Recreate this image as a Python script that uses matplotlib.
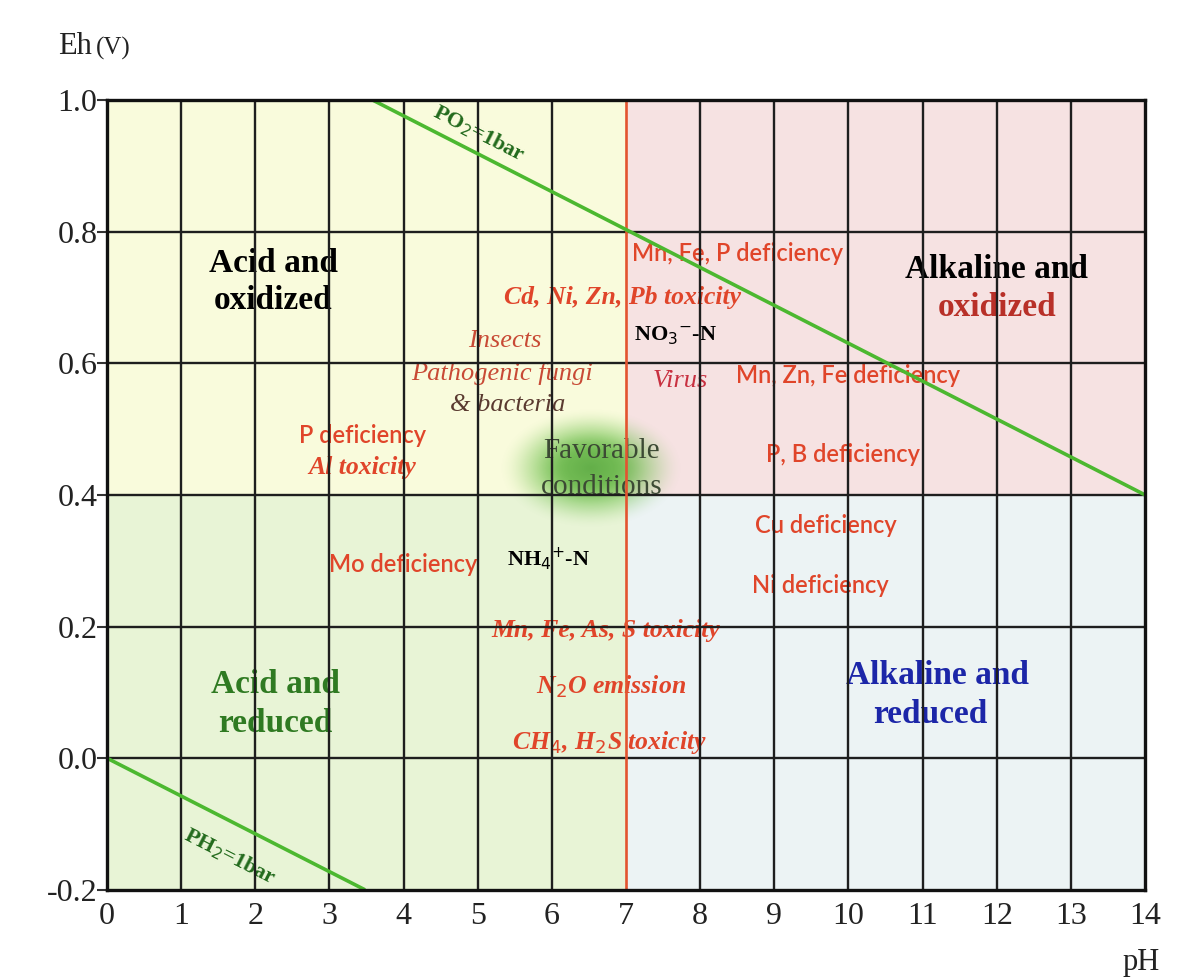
import numpy as np
import matplotlib
matplotlib.use("Agg")
import matplotlib.pyplot as plt

# Limites del diagrama Eh-pH
ph_min, ph_max = 0, 14
eh_min, eh_max = -0.2, 1.0
ph_neutral = 7
eh_split = 0.4

ph_ticks = list(range(0, 15))
eh_ticks = [-0.2, 0.0, 0.2, 0.4, 0.6, 0.8, 1.0]

# Linies d'estabilitat de l'aigua (extrems llegits del grafic)
po2_ph = [3.58, 14.0]
po2_eh = [1.0, 0.4]
ph2_ph = [0.0, 3.48]
ph2_eh = [0.0, -0.2]

# Zones (pH0, pH1, Eh0, Eh1, color)
zones = [
    (0, 7, 0.4, 1.0, "#f9fbdc"),
    (7, 14, 0.4, 1.0, "#f6e2e2"),
    (0, 7, -0.2, 0.4, "#e8f4d6"),
    (7, 14, -0.2, 0.4, "#ecf3f4"),
]

# Zona de condicions favorables
fav_ph, fav_eh = 6.52, 0.440
fav_wph, fav_weh = 1.25, 0.092

# Etiquetes: (text, pH, Eh, color, estil)
labels = [
    ("Mn, Fe, P deficiency", 8.5, 0.766, "#e0452a", "sans"),
    ("Cd, Ni, Zn, Pb toxicity", 6.95, 0.700, "#e0452a", "ital"),
    ("NO$_3$$^{-}$-N", 7.67, 0.642, "black", "bold"),
    ("Insects", 5.37, 0.634, "#c84a35", "ital_n"),
    ("Pathogenic fungi", 5.33, 0.584, "#c84a35", "ital_n"),
    ("& bacteria", 5.40, 0.537, "#5a3a30", "ital_n"),
    ("Virus", 7.73, 0.573, "#c83040", "ital_n"),
    ("Mn, Zn, Fe deficiency", 10.0, 0.581, "#e0452a", "sans"),
    ("P deficiency", 3.44, 0.490, "#e0452a", "sans"),
    ("Al toxicity", 3.44, 0.441, "#e0452a", "ital"),
    ("P, B deficiency", 9.92, 0.461, "#e0452a", "sans"),
    ("Cu deficiency", 9.69, 0.353, "#e0452a", "sans"),
    ("Ni deficiency", 9.62, 0.263, "#e0452a", "sans"),
    ("Mo deficiency", 3.99, 0.294, "#e0452a", "sans"),
    ("NH$_4$$^{+}$-N", 5.95, 0.304, "black", "bold"),
    ("Mn, Fe, As, S toxicity", 6.73, 0.194, "#e0452a", "ital"),
    ("N$_2$O emission", 6.80, 0.109, "#e0452a", "ital"),
    ("CH$_4$, H$_2$S toxicity", 6.78, 0.024, "#e0452a", "ital"),
]

# Titols de zona: (text, pH, Eh, color)
zone_titles = [
    ("Acid and", 2.24, 0.752, "black"),
    ("oxidized", 2.24, 0.695, "black"),
    ("Alkaline and", 12.0, 0.742, "black"),
    ("oxidized", 12.0, 0.684, "#b83028"),
    ("Acid and", 2.27, 0.112, "#2f7a22"),
    ("reduced", 2.27, 0.053, "#2f7a22"),
    ("Alkaline and", 11.2, 0.125, "#1c26a8"),
    ("reduced", 11.1, 0.066, "#1c26a8"),
]

serif = "Liberation Serif"
sans = "Lato"

fig = plt.figure(figsize=(12, 9.8), dpi=100)
ax = fig.add_axes([0.0892, 0.092, 0.8650, 0.806])

for x0, x1, y0, y1, c in zones:
    ax.fill_between([x0, x1], y0, y1, color=c, zorder=0, linewidth=0)

# taca verda difuminada
n = 260
gx = np.linspace(-1, 1, n)
GX, GY = np.meshgrid(gx, gx)
r = np.sqrt(GX ** 2 + GY ** 2)
t = np.clip((1 - r) / 0.75, 0, 1)
alpha = t * t * (3 - 2 * t) * 0.82
core = np.clip(1 - r / 0.6, 0, 1)
img = np.zeros((n, n, 4))
img[..., 0] = 0.40 - 0.14 * core
img[..., 1] = 0.74 - 0.12 * core
img[..., 2] = 0.26 - 0.10 * core
img[..., 3] = alpha
ax.imshow(img, extent=[fav_ph - fav_wph, fav_ph + fav_wph, fav_eh - fav_weh, fav_eh + fav_weh],
          aspect="auto", zorder=1, interpolation="bilinear")

# graella
for x in ph_ticks[1:-1]:
    if x == ph_neutral:
        continue
    ax.axvline(x, color="#1e1e1e", lw=1.7, zorder=3)
for y in eh_ticks[1:-1]:
    ax.axhline(y, color="#1e1e1e", lw=1.7, zorder=3)
ax.axvline(ph_neutral, color="#e3542f", lw=1.9, zorder=3.2)

ax.plot(po2_ph, po2_eh, color="#4cb830", lw=2.6, zorder=3.5, solid_capstyle="butt")
ax.plot(ph2_ph, ph2_eh, color="#4cb830", lw=2.6, zorder=3.5, solid_capstyle="butt")

ax.text(5.02, 0.948, "PO$_2$=1bar", rotation=-27, color="#226a1c", fontsize=16,
        fontfamily=serif, fontweight="bold",
        ha="center", va="center", zorder=2)
ax.text(1.66, -0.150, "PH$_2$=1bar", rotation=-27, color="#226a1c", fontsize=16,
        fontfamily=serif, fontweight="bold",
        ha="center", va="center", zorder=2)

for txt, x, y, c in zone_titles:
    ax.text(x, y, txt, color=c, fontsize=24, fontfamily=serif, fontweight="bold",
            ha="center", va="center", zorder=2)

for txt, x, y, c, st in labels:
    if st == "sans":
        ax.text(x, y, txt, color=c, fontsize=17, fontfamily=sans, fontweight="semibold",
                ha="center", va="center", zorder=2)
    elif st == "ital":
        ax.text(x, y, txt, color=c, fontsize=18.5, fontfamily=serif, fontweight="bold",
                fontstyle="italic", ha="center", va="center", zorder=2)
    elif st == "ital_n":
        ax.text(x, y, txt, color=c, fontsize=19, fontfamily=serif,
                fontstyle="italic", ha="center", va="center", zorder=2)
    else:
        ax.text(x, y, txt, color=c, fontsize=16, fontfamily=serif, fontweight="bold",
                ha="center", va="center", zorder=2)

ax.text(6.67, 0.466, "Favorable", color="#3c4a34", fontsize=21,
        fontfamily=serif, ha="center", va="center", zorder=2)
ax.text(6.67, 0.412, "conditions", color="#3c4a34", fontsize=21,
        fontfamily=serif, ha="center", va="center", zorder=2)

ax.set_xlim(ph_min, ph_max)
ax.set_ylim(eh_min, eh_max)
ax.set_xticks(ph_ticks)
ax.set_yticks(eh_ticks)
ax.set_xticklabels([str(t) for t in ph_ticks], fontfamily=serif, fontsize=23, color="#222222")
ax.set_yticklabels([f"{t:.1f}" for t in eh_ticks], fontfamily=serif, fontsize=23, color="#222222")
ax.tick_params(axis="x", length=0, pad=9)
ax.tick_params(axis="y", length=7, width=1.5, pad=0, color="#333333")
for sp in ax.spines.values():
    sp.set_linewidth(2.4)
    sp.set_color("#111111")
    sp.set_zorder(4)

fig.text(58 / 1200, 1 - 47 / 980, "Eh", fontfamily=serif, fontsize=22, va="center", color="#222222")
fig.text(96 / 1200, 1 - 48 / 980, "(V)", fontfamily=serif, fontsize=18, va="center", color="#222222")
fig.text(1141 / 1200, 1 - 962 / 980, "pH", fontfamily=serif, fontsize=22, ha="center",
         va="center", color="#222222")

fig.savefig("out.png", dpi=100)
